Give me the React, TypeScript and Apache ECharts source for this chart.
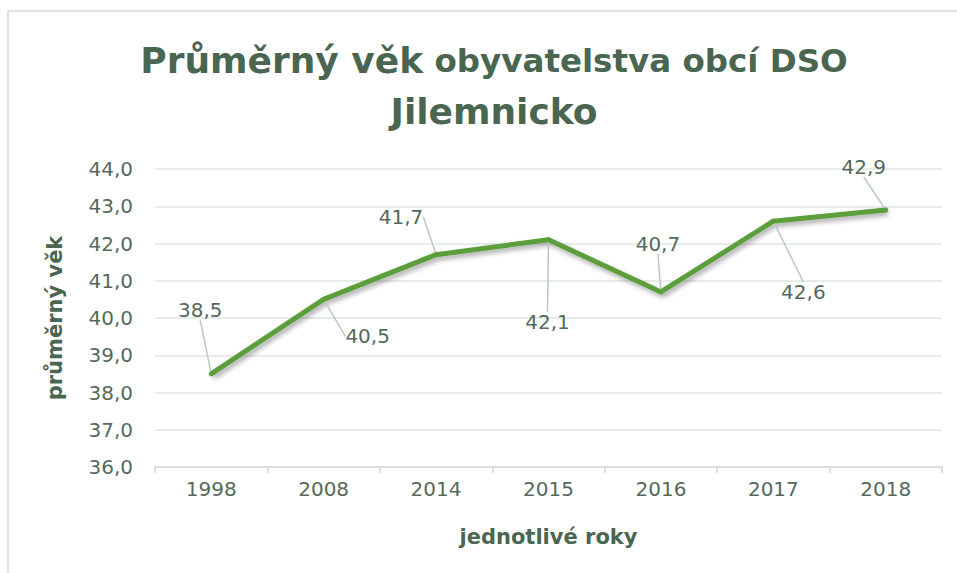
import React, { useEffect, useRef } from "react";
import * as echarts from "echarts";

const years = ["1998", "2008", "2014", "2015", "2016", "2017", "2018"];
const ages = [38.5, 40.5, 41.7, 42.1, 40.7, 42.6, 42.9];
const labelDx = [-11, 44, -35, -1, -3, 30, -22];
const labelDy = [-64, 37, -38, 82, -48, 71, -43];

const FONT = "'DejaVu Sans', sans-serif";
const TEXT = "#546a5b";
const DARK = "#4a6650";
const GREEN = "#5b9e3a";

const fmt = (v: number) => v.toFixed(1).replace(".", ",");

export default function App() {
  const ref = useRef<HTMLDivElement>(null);
  useEffect(() => {
    const chart = echarts.init(ref.current!, undefined, { renderer: "svg" });
    chart.setOption({
      animation: false,
      backgroundColor: "#ffffff",
      title: {
        text: "{a|Průměrný věk}{b| obyvatelstva obcí DSO}\n{a|Jilemnicko}",
        left: 489,
        top: 30,
        textAlign: "center",
        textStyle: {
          rich: {
            a: { fontSize: 36, fontWeight: "bold", color: DARK, fontFamily: FONT, lineHeight: 51 },
            b: { fontSize: 32.5, fontWeight: "bold", color: DARK, fontFamily: FONT, lineHeight: 51 },
          },
        },
      },
      graphic: [
        {
          type: "rect",
          shape: { x: 8, y: 11, width: 960, height: 580 },
          style: { fill: "none", stroke: "#dde3e0", lineWidth: 2 },
        },
      ],
      grid: { left: 155, right: 15, top: 169, bottom: 106 },
      xAxis: {
        type: "category",
        data: years,
        boundaryGap: true,
        axisLine: { lineStyle: { color: "#d9e0dc", width: 2 } },
        axisTick: { show: true, length: 6, lineStyle: { color: "#d9e0dc", width: 2 } },
        axisLabel: { color: TEXT, fontSize: 20, fontFamily: FONT, margin: 12 },
        name: "jednotlivé roky",
        nameLocation: "middle",
        nameGap: 59,
        nameTextStyle: { color: DARK, fontSize: 21, fontWeight: "bold", fontFamily: FONT },
      },
      yAxis: {
        type: "value",
        min: 36,
        max: 44,
        interval: 1,
        axisLine: { show: false },
        axisTick: { show: false },
        axisLabel: { color: TEXT, fontSize: 20, fontFamily: FONT, margin: 22, formatter: fmt },
        splitLine: { lineStyle: { color: "#dfe6e2", width: 1.5 } },
        name: "průměrný věk",
        nameLocation: "middle",
        nameGap: 90,
        nameTextStyle: { color: DARK, fontSize: 21, fontWeight: "bold", fontFamily: FONT },
      },
      series: [
        {
          type: "line",
          data: ages,
          symbol: "circle",
          symbolSize: 5,
          itemStyle: { color: GREEN },
          lineStyle: {
            color: GREEN,
            width: 5,
            shadowColor: "rgba(0,0,0,0.35)",
            shadowBlur: 5,
            shadowOffsetX: 2,
            shadowOffsetY: 3,
          },
          label: {
            show: true,
            position: "inside",
            color: TEXT,
            fontSize: 20,
            fontFamily: FONT,
            formatter: (p: any) => fmt(p.value),
          },
          labelLine: {
            show: true,
            lineStyle: { color: "#b8cbc0", width: 1.5 },
          },
          labelLayout: (p: any) => ({
            dx: labelDx[p.dataIndex],
            dy: labelDy[p.dataIndex],
          }),
        },
      ],
    });
    return () => chart.dispose();
  }, []);
  return (
    <div
      ref={ref}
      style={{ position: "fixed", left: 0, top: 0, width: 957, height: 573 }}
    />
  );
}
